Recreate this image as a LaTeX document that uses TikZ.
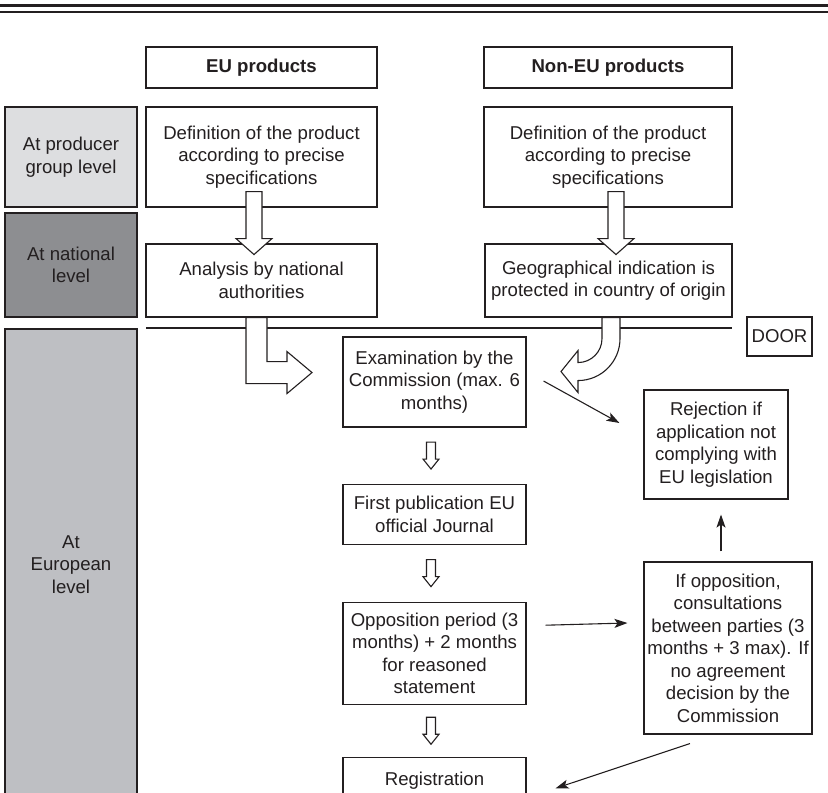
\documentclass[tikz,border=0pt]{standalone}
\usepackage{fontspec}
\setmainfont{Liberation Sans}
\usetikzlibrary{arrows.meta,calc,positioning}
\definecolor{ink}{RGB}{35,31,32}
\definecolor{prodgray}{RGB}{221,222,224}
\definecolor{natgray}{RGB}{141,142,145}
\definecolor{eurogray}{RGB}{190,191,195}

\begin{document}
\begin{tikzpicture}[x=1pt,y=-1pt,
  every node/.style={font=\fontsize{18.6}{22.5}\selectfont,text=ink,align=center,inner sep=0pt},
  stepbox/.style 2 args={draw=ink,line width=1.1pt,fill=white,minimum width=#1pt,minimum height=#2pt},
  headbox/.style={font=\fontsize{18.6}{22.5}\selectfont\bfseries},
  lvlbox/.style={draw=ink,line width=1.1pt,fill=#1,minimum width=132pt},
  blockarrow/.style={draw=ink,line width=1.1pt,fill=white,line join=miter},
  thinarrow/.style={draw=ink,line width=1.1pt,-{Stealth[length=13pt,width=9pt,inset=3pt]}}]
  \useasboundingbox (0,0) rectangle (828,793);
  \clip (0,0) rectangle (828,793);
  \draw[ink,line width=2.5pt] (0,5.5) -- (828,5.5);
  \draw[ink,line width=2pt] (0,12) -- (828,12);

  \node[lvlbox=prodgray,minimum height=100pt] (lvl_prod) at (71,157)   {At producer\\group level};
  \node[lvlbox=natgray,minimum height=104pt]  (lvl_nat)  at (71,265)   {At national\\level};
  \node[lvlbox=eurogray,minimum height=471pt] (lvl_eur)  at (71,564.5) {At\\European\\level};

  \node[stepbox={231}{41},headbox] (head_eu)  at (261.5,67.5) {EU products};
  \node[stepbox={248}{41},headbox] (head_non) at (608,67.5)   {Non-EU products};

  \node[stepbox={231}{100}] (def_eu)  at (261.5,157)   {Definition of the product\\according to precise\\specifications};
  \node[stepbox={248}{100}] (def_non) at (608,157)     {Definition of the product\\according to precise\\specifications};
  \node[stepbox={231}{73}]  (ana_eu)  at (261.5,280.5) {Analysis by national\\authorities};
  \node[stepbox={247}{73}]  (geo_non) at (608.5,280.5) {Geographical indication is\\protected in country of origin};
  \node[stepbox={65}{39}]   (door)    at (779.5,336.5) {DOOR};

  \node[stepbox={183}{90}]  (exam)      at (434.5,382)         {Examination by the\\Commission (max. 6\\months)};
  \node[stepbox={183}{60}]  (first_pub) [below=56pt of exam]   {First publication EU\\official Journal};
  \node[stepbox={183}{102}] (oppo)      [below=57pt of first_pub] {Opposition period (3\\months) + 2 months\\for reasoned\\statement};
  \node[stepbox={183}{46}]  (reg)       [below=52pt of oppo]   {Registration};
  \node[stepbox={144}{109}] (rej)       at (716,444.5)         {Rejection if\\application not\\complying with\\EU legislation};
  \node[stepbox={168}{172}] (cons)      at (728,648)           {If opposition,\\consultations\\between parties (3\\months + 3 max). If\\no agreement\\decision by the\\Commission};

  \draw[ink,line width=1.1pt] (146,328) -- (732,328);

  \foreach \n/\dx in {def_eu/-15.5,def_non/0}
    \draw[blockarrow] ($(\n.south)+(\dx,-16)$) -- ++(0,47) -- ++(-10,0) -- ++(18,16)
      -- ++(18,-16) -- ++(-10,0) -- ++(0,-47) -- cycle;
  \draw[blockarrow] ($(ana_eu.south)+(-15.5,0)$) -- ++(0,66) -- ++(41,0) -- ++(0,10)
    -- ++(25,-21) -- ++(-25,-21) -- ++(0,10) -- ++(-20,0) -- ++(0,-44) -- cycle;
  \draw[blockarrow,shift={(geo_non.south)}] (-6.5,0) -- (-6.5,21)
    .. controls (-6.5,34.3) and (-17.2,45) .. (-30.5,45) -- (-30.5,33) -- (-47.5,54)
    -- (-30.5,75) -- (-30.5,63) .. controls (-7.3,63) and (11.5,44.2) .. (11.5,21)
    -- (11.5,0) -- cycle;
  \foreach \a/\b in {exam/first_pub,first_pub/oppo,oppo/reg}{
    \coordinate (mid) at ($(\a.south)!0.5!(\b.north)+(-3.5,0)$);
    \draw[blockarrow] ($(mid)+(-4.5,-13.5)$) -- ++(0,17) -- ++(-3.5,0) -- ++(8,10)
      -- ++(8,-10) -- ++(-3.5,0) -- ++(0,-17) -- cycle;
  }

  \draw[thinarrow] ($(exam.east)+(17,-1)$) -- ($(rej.west)+(-24,-21.5)$);
  \draw[thinarrow] ($(oppo.east)+(19,-28)$) -- ($(cons.west)+(-16,-25)$);
  \draw[thinarrow] ($(cons.north)+(-7,-10)$) -- ($(rej.south)+(5,15)$);
  \draw[thinarrow] ($(cons.south)+(-38,9)$) -- ($(reg.east)+(29,8)$);
\end{tikzpicture}
\end{document}
